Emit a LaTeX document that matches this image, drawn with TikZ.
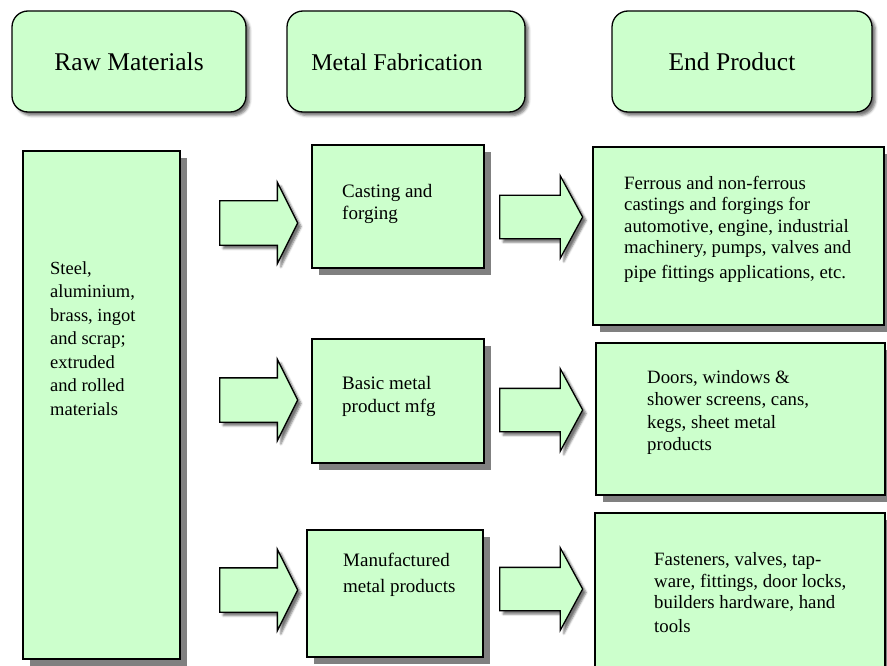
\documentclass[tikz,border=0pt]{standalone}
\usepackage{fontspec}
\setmainfont{Liberation Serif}
\usetikzlibrary{shadows,shadows.blur,shapes.arrows}
\definecolor{boxgreen}{HTML}{CCFFCC}
\definecolor{shadowgray}{HTML}{808080}
\begin{document}
\begin{tikzpicture}[x=1pt,y=-1pt,
  header/.style={draw=black, line width=1.3pt, fill=boxgreen, rounded corners=16pt, inner sep=0pt,
    blur shadow={shadow xshift=3.5pt, shadow yshift=-3.5pt, shadow blur radius=2.5pt, shadow opacity=55}},
  plainbox/.style={draw=black, line width=1.3pt, fill=boxgreen, inner sep=0pt,
    drop shadow={shadow xshift=7pt, shadow yshift=-7pt, fill=shadowgray, opacity=1}},
  leftarrow/.style={single arrow, draw=black, line width=1.3pt, fill=boxgreen, anchor=tail,
    inner xsep=0pt, inner ysep=21.5pt, single arrow head extend=18.5pt, single arrow tip angle=127,
    minimum height=78pt,
    blur shadow={shadow xshift=3.5pt, shadow yshift=-3.5pt, shadow blur radius=2pt, shadow opacity=55}},
  rightarrow/.style={leftarrow, inner ysep=21pt, single arrow head extend=19.5pt, single arrow tip angle=123,
    minimum height=83pt},
  headtxt/.style={inner sep=0pt, font={\fontsize{25.5}{30}\selectfont}},
  midtxt/.style={inner sep=0pt, align=left, anchor=west, font={\fontsize{19}{22.5}\selectfont}},
  endtxt/.style={inner sep=0pt, align=left, anchor=west, font={\fontsize{18.8}{21.6}\selectfont}},
  rawtxt/.style={inner sep=0pt, align=left, anchor=west, font={\fontsize{18.5}{23.5}\selectfont}}
]
\useasboundingbox (0,0) rectangle (887,666);
\clip (0,0) rectangle (887,666);

% headers
\node[header, minimum width=234pt, minimum height=101pt] (rm) at (129,61.5) {};
\node[header, minimum width=238pt, minimum height=101pt] (mf) at (406,61.5) {};
\node[header, minimum width=260pt, minimum height=101pt] (ep) at (742,61.5) {};
\node[headtxt] (rmt) at (129,62) {Raw Materials};
\node[headtxt, font={\fontsize{24}{28}\selectfont}] (mft) at (397,62) {Metal Fabrication};
\node[headtxt] (ept) at (732,62) {End Product};

% raw materials column
\node[plainbox, minimum width=157pt, minimum height=508pt] (raw) at (101.5,405) {};
\node[rawtxt] (rawt) at (50,338.5) {Steel,\\aluminium,\\brass, ingot\\and scrap;\\extruded\\and rolled\\materials};

% left arrows
\node[leftarrow] (la1) at (219,223) {};
\node[leftarrow] (la2) at (219,400) {};
\node[leftarrow] (la3) at (219,590) {};

% middle boxes
\node[plainbox, minimum width=172pt, minimum height=123pt] (cf) at (398,206.5) {};
\node[plainbox, minimum width=172pt, minimum height=124pt] (bm) at (398,401) {};
\node[plainbox, minimum width=176pt, minimum height=127pt] (mm) at (395,593.5) {};
\node[midtxt] (cft) at (342,204) {Casting and\\forging};
\node[midtxt] (bmt) at (342,396.5) {Basic metal\\product mfg};
\node[midtxt, font={\fontsize{19}{26}\selectfont}] (mmt) at (343,575) {Manufactured\\metal products};

% right arrows
\node[rightarrow] (ra1) at (499,217) {};
\node[rightarrow] (ra2) at (499,410) {};
\node[rightarrow] (ra3) at (499,589) {};

% end product boxes
\node[plainbox, minimum width=291pt, minimum height=178pt] (e1) at (738.5,236) {};
\node[plainbox, minimum width=289pt, minimum height=152pt] (e2) at (740.5,419) {};
\node[plainbox, minimum width=290pt, minimum height=170pt] (e3) at (740,598) {};
\node[endtxt] (e1t) at (624,229) {Ferrous and non-ferrous\\castings and forgings for\\automotive, engine, industrial\\machinery, pumps, valves and\\[2.7pt]pipe fittings applications, etc.};
\node[endtxt, font={\fontsize{18.8}{22.3}\selectfont}] (e2t) at (647,412.5) {Doors, windows \&\\shower screens, cans,\\kegs, sheet metal\\products};
\node[endtxt] (e3t) at (654,592.5) {Fasteners, valves, tap-\\ware, fittings, door locks,\\builders hardware, hand\\[2pt]tools};
\end{tikzpicture}
\end{document}
